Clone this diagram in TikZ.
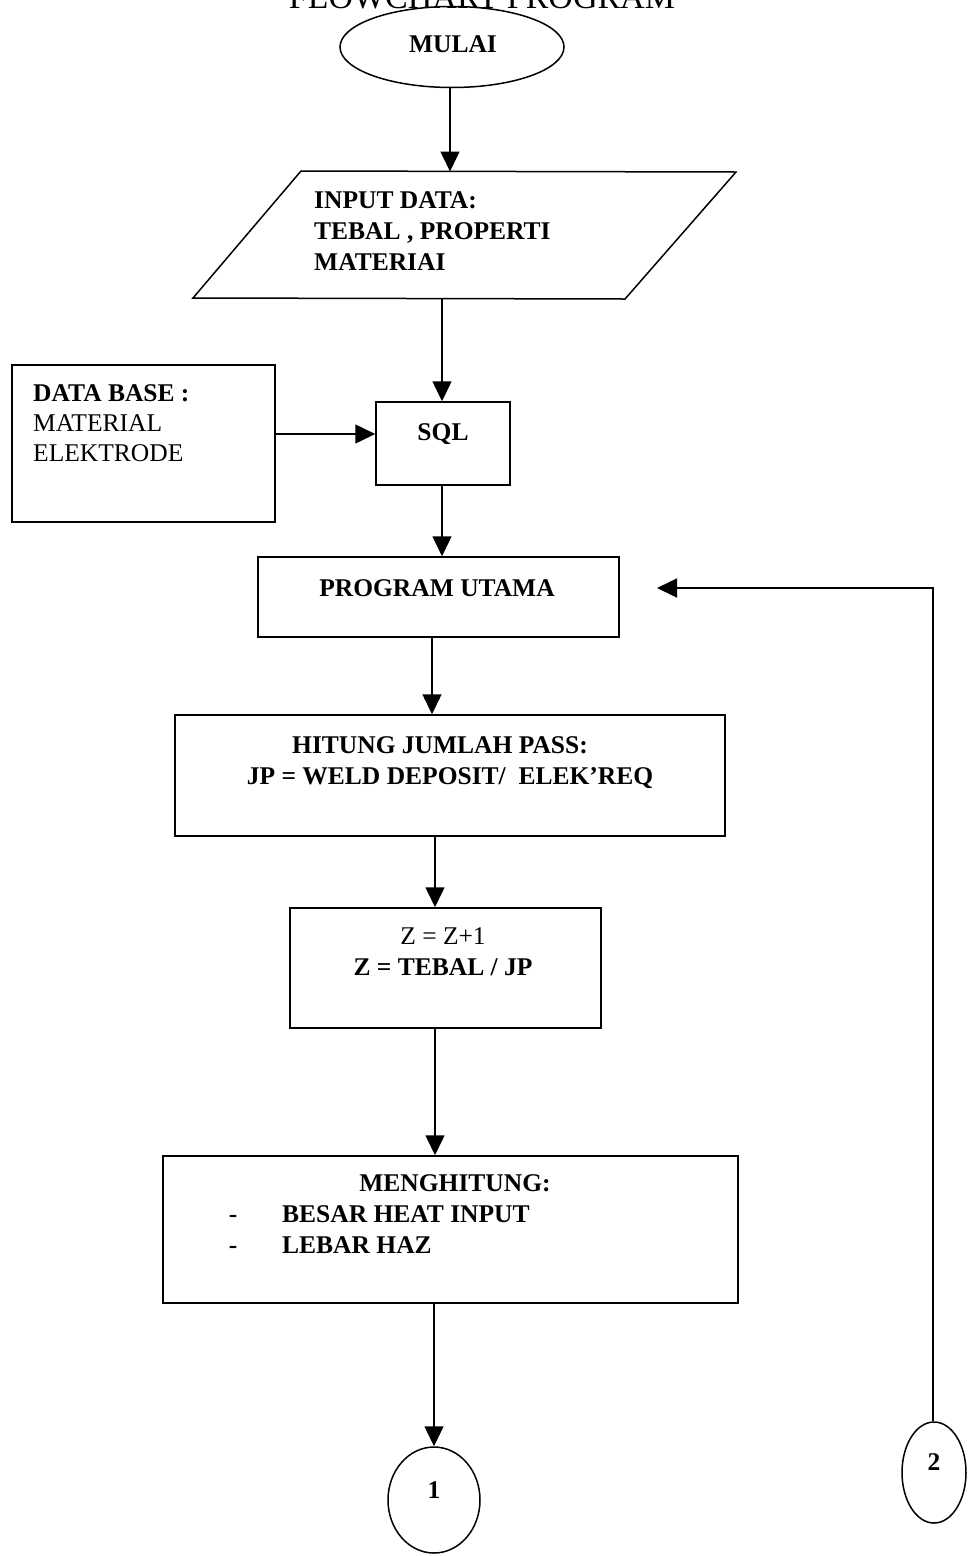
\documentclass[tikz,border=0pt]{standalone}
\usepackage{fontspec}
\setmainfont{Liberation Serif}
\usetikzlibrary{arrows.meta,shapes.geometric}
\begin{document}
\begin{tikzpicture}[x=1pt,y=-1pt,
  ln/.style={line width=1.5pt},
  box/.style={draw,line width=1.5pt,rectangle,inner sep=0pt},
  oval/.style={draw,line width=1.5pt,ellipse,inner sep=0pt},
  arr/.style={line width=1.5pt,-{Triangle[length=20pt,width=19pt]}},
  tb/.style={font=\fontsize{25.5}{30.5}\selectfont\bfseries,inner sep=0pt},
  tn/.style={font=\fontsize{25.5}{30.5}\selectfont,inner sep=0pt}]
\useasboundingbox (0,0) rectangle (977,1556);
\clip (0,0) rectangle (977,1556);
\fill[white] (0,0) rectangle (977,1556);

% title (cut off at top edge, as in the reference)
\node[tn,anchor=base,font=\fontsize{34}{38}\selectfont] (title) at (482,8) {FLOWCHART PROGRAM};

% start
\node[oval,minimum width=224pt,minimum height=81pt] (mulai) at (452,47) {};
\node[tb,anchor=base] (mulaitxt) at (453,52) {MULAI};

% input parallelogram
\coordinate (inTL) at (301,171);
\coordinate (inTR) at (736,172);
\coordinate (inBR) at (625,299);
\coordinate (inBL) at (193,298);
\draw[ln,line join=miter] (inTL) -- (inTR) -- (inBR) -- (inBL) -- cycle;
\coordinate (inTop) at (450,171.5);
\coordinate (inBot) at (442,298.5);
\node[tb,anchor=base west] (intxt) at (314,208) {INPUT DATA:};
\node[tb,anchor=base west] (intxt2) at (314,239) {TEBAL , PROPERTI};
\node[tb,anchor=base west] (intxt3) at (314,270) {MATERIAI};

% database
\node[box,minimum width=263pt,minimum height=157pt] (db) at (143.5,443.5) {};
\node[tb,anchor=base west] (dbt1) at (33,401) {DATA BASE :};
\node[tn,anchor=base west] (dbt2) at (33,431) {MATERIAL};
\node[tn,anchor=base west] (dbt3) at (33,461) {ELEKTRODE};

% SQL
\node[box,minimum width=134pt,minimum height=83pt] (sql) at (443,443.5) {};
\node[tb,anchor=base] (sqlt) at (443,440) {SQL};

% program utama
\node[box,minimum width=361pt,minimum height=80pt] (prog) at (438.5,597) {};
\node[tb,anchor=base] (progt) at (437,596) {PROGRAM UTAMA};

% hitung
\node[box,minimum width=550pt,minimum height=121pt] (hit) at (450,775.5) {};
\node[tb,anchor=base] (hitt1) at (440,753) {HITUNG JUMLAH PASS:};
\node[tb,anchor=base] (hitt2) at (450,784) {JP = WELD DEPOSIT/\ \ ELEK’REQ};

% Z
\node[box,minimum width=311pt,minimum height=120pt] (zbox) at (445.5,968) {};
\node[tn,anchor=base] (zt1) at (443,944) {Z = Z+1};
\node[tb,anchor=base] (zt2) at (443,975) {Z = TEBAL / JP};

% menghitung
\node[box,minimum width=575pt,minimum height=147pt] (meng) at (450.5,1229.5) {};
\node[tb,anchor=base] (mt1) at (455,1191) {MENGHITUNG:};
\node[tb,anchor=base] (md1) at (233,1222) {-};
\node[tb,anchor=base west] (mt2) at (282,1222) {BESAR HEAT INPUT};
\node[tb,anchor=base] (md2) at (233,1253) {-};
\node[tb,anchor=base west] (mt3) at (282,1253) {LEBAR HAZ};

% connectors
\node[oval,minimum width=92pt,minimum height=106pt] (c1) at (434,1500) {};
\node[tb,anchor=base] (c1t) at (434,1498) {1};
\node[oval,minimum width=64pt,minimum height=101pt] (c2) at (934,1472.5) {};
\node[tb,anchor=base] (c2t) at (934,1470) {2};

% arrows
\draw[arr] ([xshift=-2pt]mulai.south) -- (inTop);
\draw[arr] (inBot) -- (inBot |- sql.north);
\draw[arr] ([yshift=9.5pt]db.east) -- ([yshift=9.5pt]sql.west);
\draw[arr] ([xshift=-1pt]sql.south) -- ([xshift=-1pt]sql.south |- prog.north);
\draw[arr] ([xshift=-6.5pt]prog.south) -- ([xshift=-6.5pt]prog.south |- hit.north);
\draw[arr] ([xshift=-15pt]hit.south) -- ([xshift=-15pt]hit.south |- zbox.north);
\draw[arr] ([xshift=-10.5pt]zbox.south) -- ([xshift=-10.5pt]zbox.south |- meng.north);
\draw[arr] ([xshift=-16.5pt]meng.south) -- ([xshift=-16.5pt]meng.south |- c1.north);
\coordinate (loopend) at (657,588);
\draw[arr] ([xshift=-1pt]c2.north) |- (loopend);
\end{tikzpicture}
\end{document}
